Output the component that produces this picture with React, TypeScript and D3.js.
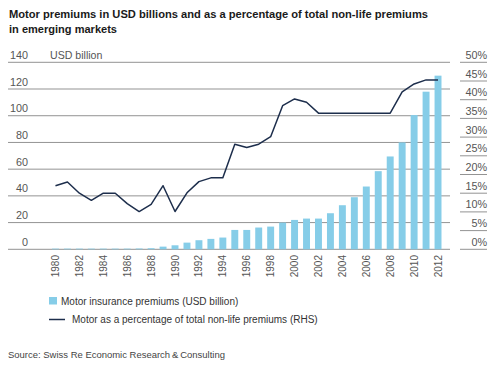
import React from "react";
import * as d3 from "d3";

const years: number[] = d3.range(1980, 2013);
const premiums: number[] = [
  0.5, 0.5, 0.5, 0.5, 0.5, 0.5, 0.5, 0.6, 0.8, 2, 3, 5, 6.8, 7.8, 8.8, 14.5,
  14.5, 16.3, 17, 20, 22, 23, 23, 27, 33, 39, 47, 58.5, 69.5, 80, 100.5, 118, 130,
];
const shares: number[] = [
  17, 18, 15, 13.1, 15, 15, 12.2, 10.1, 12, 17, 10.1, 15.1, 18.1, 19.1, 19.1,
  28.1, 27.2, 28.1, 30.1, 38.4, 40.2, 39.3, 36.4, 36.4, 36.4, 36.4, 36.4, 36.4,
  36.4, 42.1, 44.2, 45.3, 45.3,
];
const leftTicks: number[] = [0, 20, 40, 60, 80, 100, 120, 140];
const rightTicks: number[] = [0, 5, 10, 15, 20, 25, 30, 35, 40, 45, 50];
const xLabelYears: number[] = d3.range(1980, 2013, 2);

const titleLines = [
  "Motor premiums in USD billions and as a percentage of total non-life premiums",
  "in emerging markets",
];
const legendBar = "Motor insurance premiums (USD billion)";
const legendLine = "Motor as a percentage of total non-life premiums (RHS)";
const sourceText = "Source: Swiss Re Economic Research\u2009&\u2009Consulting";
const unitLabel = "USD billion";

const FONT = "'Liberation Sans', Arial, Helvetica, sans-serif";
const BAR = "#86cde8";
const LINE = "#1d2e4c";
const GRID = "#939393";
const LABEL = "#555";

export default function App() {
  const x = d3
    .scaleBand<number>()
    .domain(years)
    .range([49.5, 444])
    .paddingInner(0.42)
    .paddingOuter(0.21);
  const yL = d3.scaleLinear().domain([0, 140]).range([249.3, 62.3]);
  const yR = d3.scaleLinear().domain([0, 50]).range([249.3, 62.3]);
  const cx = (yr: number) => (x(yr) as number) + x.bandwidth() / 2;

  const line = d3
    .line<number>()
    .x((_, i) => cx(years[i]))
    .y((d) => yR(d))
    .curve(d3.curveLinear);

  return (
    <svg
      width={500}
      height={372}
      style={{ position: "absolute", left: 0, top: 0, background: "#fff" }}
      fontFamily={FONT}
    >
      <rect x={0} y={0} width={500} height={372} fill="#fff" />
      {/* title */}
      <text x={9} y={18} fontSize={10.6} fontWeight="bold" fill="#1a1a1a" textLength={419} lengthAdjust="spacingAndGlyphs">
        {titleLines[0]}
      </text>
      <text x={9} y={33} fontSize={10.6} fontWeight="bold" fill="#1a1a1a" textLength={108} lengthAdjust="spacingAndGlyphs">
        {titleLines[1]}
      </text>

      {/* left gridlines and labels */}
      {leftTicks.map((t) => (
        <g key={"l" + t}>
          <line x1={8} x2={450} y1={yL(t)} y2={yL(t)} stroke={GRID} strokeWidth={1} />
          <text x={28} y={yL(t) - 3.5} fontSize={10.8} fill={LABEL} textAnchor="end">
            {t}
          </text>
        </g>
      ))}
      <text x={50} y={58.8} fontSize={10.6} fill={LABEL}>
        {unitLabel}
      </text>

      {/* right short lines and labels */}
      {rightTicks.map((t) => (
        <g key={"r" + t}>
          <line x1={460} x2={487} y1={yR(t)} y2={yR(t)} stroke={GRID} strokeWidth={1} />
          <text x={487} y={yR(t) - 3.5} fontSize={10.8} fill={LABEL} textAnchor="end">
            {t + "%"}
          </text>
        </g>
      ))}

      {/* bars */}
      {years.map((yr, i) => (
        <rect
          key={"b" + yr}
          x={x(yr)}
          y={yL(premiums[i])}
          width={x.bandwidth()}
          height={yL(0) - yL(premiums[i])}
          fill={BAR}
        />
      ))}

      {/* line */}
      <path d={line(shares) || ""} fill="none" stroke={LINE} strokeWidth={1.5} strokeLinejoin="round" />

      {/* x labels */}
      {xLabelYears.map((yr) => (
        <text
          key={"x" + yr}
          transform={`translate(${cx(yr)},255) rotate(-90)`}
          dy="0.35em"
          fontSize={10}
          fill={LABEL}
          textAnchor="end"
        >
          {yr}
        </text>
      ))}

      {/* legend */}
      <rect x={49} y={297} width={8} height={7.5} fill={BAR} />
      <text x={61} y={304.5} fontSize={10} fill="#333">
        {legendBar}
      </text>
      <line x1={49} x2={65} y1={319.5} y2={319.5} stroke={LINE} strokeWidth={1.5} />
      <text x={72} y={323} fontSize={10} fill="#333">
        {legendLine}
      </text>

      {/* source */}
      <text x={8} y={358} fontSize={9.5} fill="#444" textLength={217} lengthAdjust="spacingAndGlyphs">
        {sourceText}
      </text>
    </svg>
  );
}
